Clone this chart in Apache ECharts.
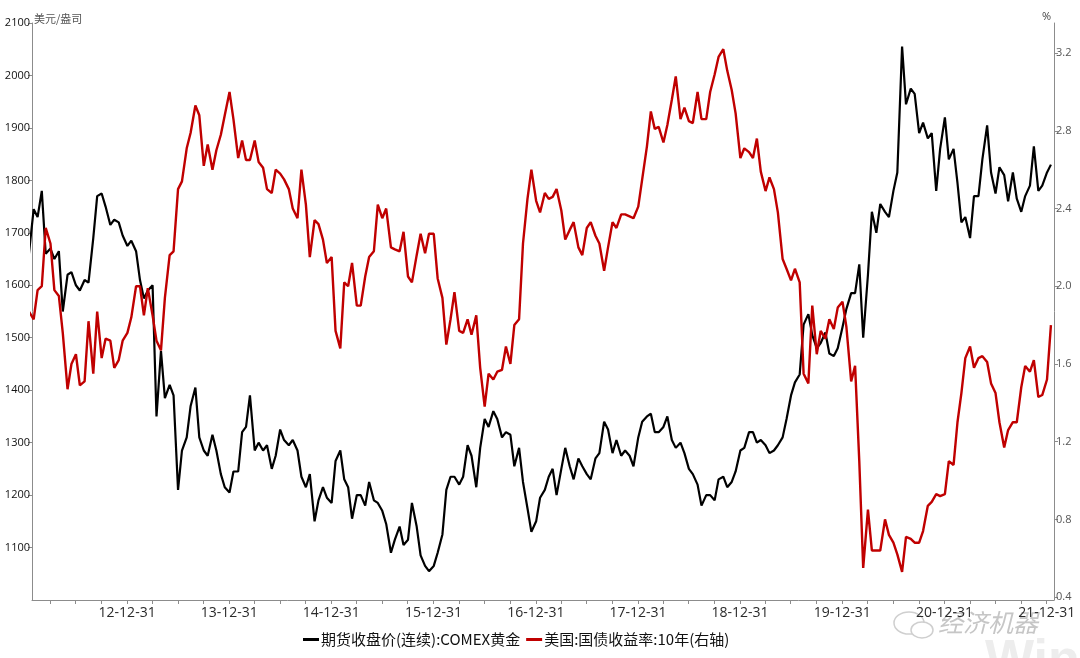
<!DOCTYPE html>
<html><head><meta charset="utf-8">
<script src="https://cdn.jsdelivr.net/npm/echarts@6.0.0/dist/echarts.min.js"></script>
<style>html,body{margin:0;padding:0;background:#fff}#c{width:1080px;height:658px}</style>
</head><body><div id="c"></div><script>
// ---- tick labels ----
const xTickLabels = ['12-12-31','13-12-31','14-12-31','15-12-31','16-12-31','17-12-31','18-12-31','19-12-31','20-12-31','21-12-31'];
const leftTicks = [1100,1200,1300,1400,1500,1600,1700,1800,1900,2000,2100];
const rightTicks = [0.4,0.8,1.2,1.6,2.0,2.4,2.8,3.2];
const seriesNames = ['期货收盘价(连续):COMEX黄金','美国:国债收益率:10年(右轴)'];

// ---- COMEX gold (USD/oz), sampled on the 1st and 15th of each month ----
const gold2012 = [1660,1745,1730,1780,1660,1670,1650,1665,1550,1620,1625,1600,1590,1610,1605,1690,1770,1775,1750,1715,1725,1720,1695]; // from Jan 15
const gold2013 = [1675,1685,1665,1610,1575,1590,1600,1350,1475,1385,1410,1390,1210,1285,1310,1370,1405,1310,1285,1275,1315,1285,1240,1215];
const gold2014 = [1205,1245,1245,1320,1330,1390,1285,1300,1285,1295,1250,1275,1325,1305,1295,1305,1285,1235,1215,1240,1150,1190,1215,1195];
const gold2015 = [1185,1265,1285,1230,1215,1155,1200,1200,1180,1225,1190,1185,1170,1145,1090,1115,1140,1105,1115,1185,1140,1085,1065,1055];
const gold2016 = [1065,1090,1125,1210,1235,1235,1220,1235,1295,1275,1215,1290,1345,1330,1360,1345,1310,1320,1315,1255,1290,1225,1175,1130];
const gold2017 = [1150,1195,1210,1235,1250,1200,1250,1290,1255,1230,1270,1255,1240,1230,1270,1280,1340,1325,1280,1305,1275,1285,1275,1255];
const gold2018 = [1310,1340,1350,1355,1320,1320,1330,1350,1305,1290,1300,1280,1250,1240,1220,1180,1200,1200,1190,1230,1235,1215,1225,1245];
const gold2019 = [1285,1290,1320,1320,1300,1305,1295,1280,1285,1295,1310,1345,1390,1415,1430,1525,1545,1505,1480,1490,1510,1470,1465,1480];
const gold2020 = [1520,1555,1585,1585,1640,1500,1620,1740,1700,1755,1740,1730,1780,1815,2055,1945,1975,1965,1890,1910,1880,1890,1780,1860];
const gold2021 = [1920,1840,1860,1795,1720,1730,1690,1770,1770,1840,1905,1815,1775,1825,1810,1760,1815,1765,1740,1770,1790,1865,1780,1790];
const gold2022 = [1815,1830]; // Jan 1, Jan 15

// ---- US 10Y treasury yield (%), same sampling ----
const yld2012 = [1.87,1.83,1.98,2.00,2.30,2.22,1.98,1.95,1.76,1.47,1.60,1.65,1.49,1.51,1.82,1.55,1.87,1.63,1.73,1.72,1.58,1.62,1.72];
const yld2013 = [1.76,1.84,2.00,2.00,1.85,1.99,1.85,1.72,1.67,1.94,2.16,2.18,2.50,2.54,2.71,2.79,2.93,2.88,2.62,2.73,2.60,2.70,2.78,2.88];
const yld2014 = [3.00,2.86,2.66,2.75,2.65,2.65,2.75,2.64,2.61,2.50,2.48,2.60,2.58,2.55,2.50,2.40,2.35,2.60,2.42,2.15,2.34,2.32,2.24,2.12];
const yld2015 = [2.15,1.77,1.68,2.02,2.00,2.12,1.90,1.90,2.05,2.15,2.18,2.42,2.35,2.40,2.20,2.19,2.18,2.28,2.05,2.02,2.16,2.27,2.17,2.27];
const yld2016 = [2.27,2.04,1.94,1.70,1.83,1.97,1.77,1.76,1.83,1.75,1.85,1.58,1.38,1.55,1.52,1.56,1.57,1.69,1.60,1.80,1.83,2.22,2.45,2.60];
const yld2017 = [2.44,2.38,2.48,2.45,2.46,2.50,2.39,2.24,2.29,2.33,2.20,2.16,2.30,2.33,2.26,2.22,2.08,2.20,2.33,2.30,2.37,2.37,2.36,2.35];
const yld2018 = [2.41,2.55,2.72,2.90,2.81,2.82,2.74,2.83,2.96,3.08,2.86,2.92,2.85,2.84,3.00,2.86,2.86,3.00,3.09,3.18,3.22,3.11,3.01,2.89];
const yld2019 = [2.66,2.71,2.69,2.66,2.76,2.59,2.49,2.56,2.50,2.38,2.14,2.09,2.03,2.09,2.02,1.55,1.50,1.90,1.65,1.77,1.73,1.83,1.78,1.89];
const yld2020 = [1.92,1.79,1.51,1.59,1.10,0.55,0.85,0.64,0.64,0.64,0.80,0.72,0.68,0.62,0.53,0.71,0.70,0.68,0.68,0.74,0.87,0.89,0.93,0.92];
const yld2021 = [0.93,1.10,1.08,1.30,1.45,1.63,1.69,1.58,1.63,1.64,1.61,1.50,1.45,1.30,1.17,1.26,1.30,1.30,1.48,1.59,1.56,1.62,1.43,1.44];
const yld2022 = [1.52,1.80];

const gold = [].concat(gold2012,gold2013,gold2014,gold2015,gold2016,gold2017,gold2018,gold2019,gold2020,gold2021,gold2022);
const yld = [].concat(yld2012,yld2013,yld2014,yld2015,yld2016,yld2017,yld2018,yld2019,yld2020,yld2021,yld2022);

// sampling dates: 1st and 15th of each month, 2012-01-15 .. 2022-01-15
const dates = [];
for (let y = 2012; y <= 2022; y++) for (let m = 0; m < 12; m++) for (const d of [1, 15]) {
  const t = Date.UTC(y, m, d);
  if (t >= Date.UTC(2012,0,15) && t <= Date.UTC(2022,0,15)) dates.push(t);
}

const parseLabel = s => { const p = s.split('-').map(Number); return Date.UTC(2000 + p[0], p[1]-1, p[2]); };
const xLabelValues = xTickLabels.map(parseLabel);
const xTickValues = [];
for (let y = 2012; y <= 2021; y++) [[2,31],[5,30],[8,30],[11,31]].forEach(([m,d]) => xTickValues.push(Date.UTC(y,m,d)));
const pad = n => (n < 10 ? '0' : '') + n;
const fmtDate = v => { const d = new Date(v); return pad(d.getUTCFullYear() % 100) + '-' + pad(d.getUTCMonth()+1) + '-' + pad(d.getUTCDate()); };

const chart = echarts.init(document.getElementById('c'), null, {renderer: 'canvas'});
const axisGray = '#8c8c8c';
chart.setOption({
  animation: false,
  backgroundColor: '#fff',
  grid: { left: 32, right: 26, top: 23, bottom: 58, containLabel: false },
  legend: {
    left: 298, top: 627,
    itemWidth: 16, itemHeight: 3, itemGap: 6, icon: 'rect',
    textStyle: { fontSize: 15, color: '#111', fontFamily: 'Noto Sans CJK SC', padding: [0,0,0,-3] },
    data: seriesNames
  },
  xAxis: {
    type: 'value',
    min: Date.UTC(2012,0,26), max: Date.UTC(2022,0,26),
    splitLine: { show: false },
    axisLine: { lineStyle: { color: axisGray, width: 1 } },
    axisTick: { show: true, length: 4, customValues: xTickValues, lineStyle: { color: axisGray } },
    axisLabel: { customValues: xLabelValues, formatter: fmtDate, fontSize: 14, color: '#2a2a2a', margin: 6, fontFamily: 'Open Sans' }
  },
  yAxis: [
    {
      type: 'value', position: 'left', min: 1000, max: 2100,
      splitLine: { show: false },
      axisLine: { show: true, lineStyle: { color: axisGray } },
      axisTick: { show: true, length: 4, customValues: leftTicks, lineStyle: { color: axisGray } },
      axisLabel: { customValues: leftTicks, formatter: v => String(Math.round(v)), fontSize: 11, color: '#111', margin: 2, fontFamily: 'Open Sans' }
    },
    {
      type: 'value', position: 'right', min: 0.385, max: 3.355,
      splitLine: { show: false },
      axisLine: { show: true, lineStyle: { color: axisGray } },
      axisTick: { show: true, length: 4, customValues: rightTicks, lineStyle: { color: axisGray } },
      axisLabel: { customValues: rightTicks, formatter: v => v.toFixed(1), fontSize: 11, color: '#555', margin: 2, fontFamily: 'Open Sans' }
    }
  ],
  graphic: [
    { type: 'text', left: 34, top: 13, style: { text: '美元/盎司', font: '11px "Noto Sans CJK SC"', fill: '#555' } },
    { type: 'text', left: 1042, top: 11, style: { text: '%', font: '11px "Open Sans"', fill: '#444' } },
    { type: 'ellipse', shape: { cx: 909, cy: 623, rx: 15, ry: 11 }, style: { fill: 'none', stroke: '#cfcfcf', lineWidth: 1.5 } },
    { type: 'ellipse', shape: { cx: 922, cy: 630, rx: 11, ry: 8 }, style: { fill: '#fff', stroke: '#cfcfcf', lineWidth: 1.5 } },
    { type: 'text', left: 938, top: 610, style: { text: '经济机器', font: 'italic 25px "Noto Sans CJK SC"', fill: '#c6c6c6' } },
    { type: 'text', left: 985, top: 636, style: { text: 'Wind', font: 'bold 52px "Liberation Sans"', fill: '#ededed' } }
  ],
  series: [
    {
      name: seriesNames[0], type: 'line', yAxisIndex: 0, showSymbol: false, symbol: 'none',
      data: dates.map((t, i) => [t, gold[i]]),
      lineStyle: { color: '#000', width: 2.2 }, itemStyle: { color: '#000' }
    },
    {
      name: seriesNames[1], type: 'line', yAxisIndex: 1, showSymbol: false, symbol: 'none',
      data: dates.map((t, i) => [t, yld[i]]),
      lineStyle: { color: '#c00000', width: 2.4 }, itemStyle: { color: '#c00000' }
    }
  ]
});
</script></body></html>
